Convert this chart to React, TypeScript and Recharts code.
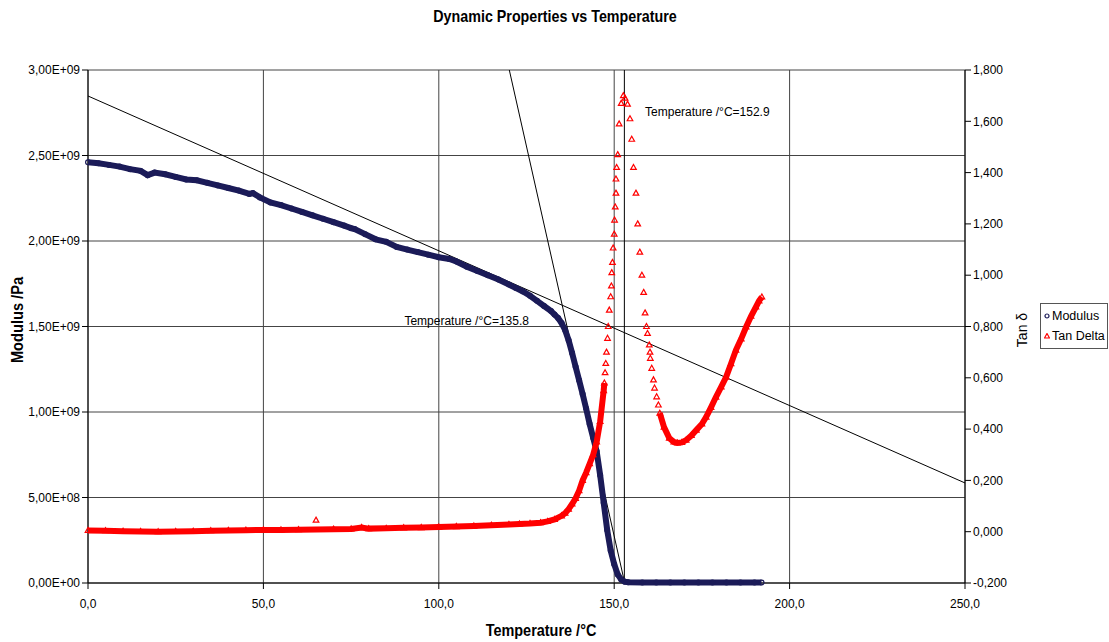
import React from 'react';
import { ScatterChart, Scatter, XAxis, YAxis, CartesianGrid, ReferenceLine, ReferenceDot, Label } from 'recharts';

const FONT = '"Liberation Sans", Arial, sans-serif';
const NAVY = '#1b1b58';
const RED = '#ff0000';

// Modulus /Pa
const modulusT = [0, 3, 6, 9, 12, 15, 17, 19, 22, 25, 28, 31, 34, 37, 40, 43, 46, 47, 49, 52, 55, 58, 61, 64, 67, 70, 73, 75, 76, 79, 82, 85, 88, 91, 94, 97, 100, 103, 105, 108, 111, 114, 117, 120, 122, 124, 126, 128, 130, 132, 133, 134, 135, 136, 137, 138, 139, 140, 141, 142, 143, 144, 145, 146, 147, 148, 149, 150, 151, 152, 153, 154, 158, 162, 166, 170, 174, 178, 182, 186, 190, 192];
const modulusPa = [2.46e9, 2.455e9, 2.445e9, 2.435e9, 2.42e9, 2.41e9, 2.385e9, 2.4e9, 2.39e9, 2.375e9, 2.36e9, 2.355e9, 2.34e9, 2.325e9, 2.31e9, 2.295e9, 2.275e9, 2.28e9, 2.255e9, 2.225e9, 2.21e9, 2.19e9, 2.17e9, 2.15e9, 2.13e9, 2.11e9, 2.09e9, 2.075e9, 2.07e9, 2.04e9, 2.01e9, 1.995e9, 1.965e9, 1.95e9, 1.935e9, 1.92e9, 1.905e9, 1.895e9, 1.88e9, 1.85e9, 1.825e9, 1.8e9, 1.775e9, 1.745e9, 1.725e9, 1.705e9, 1.68e9, 1.65e9, 1.62e9, 1.59e9, 1.57e9, 1.55e9, 1.52e9, 1.48e9, 1.42e9, 1.345e9, 1.265e9, 1.185e9, 1.105e9, 1.02e9, 0.93e9, 0.85e9, 0.77e9, 0.63e9, 0.47e9, 0.31e9, 0.19e9, 0.11e9, 0.05e9, 0.02e9, 0.008e9, 0.004e9, 0.003e9, 0.003e9, 0.003e9, 0.003e9, 0.003e9, 0.003e9, 0.003e9, 0.003e9, 0.003e9, 0.003e9];

// Tan Delta: dense rising part, sparse peak part, dense tail
const tanRiseT = [0, 5, 10, 15, 20, 25, 30, 35, 40, 45, 50, 55, 60, 70, 75, 78, 80, 85, 90, 95, 100, 105, 110, 115, 120, 123, 126, 129, 131, 133, 135, 136, 137, 138, 139, 140, 141, 142, 143, 144, 145, 146, 147, 147.2];
const tanRise = [0.005, 0.004, 0.002, 0.001, 0.0, 0.001, 0.002, 0.004, 0.005, 0.006, 0.007, 0.007, 0.008, 0.01, 0.011, 0.016, 0.012, 0.013, 0.015, 0.016, 0.018, 0.02, 0.022, 0.025, 0.028, 0.03, 0.032, 0.035, 0.04, 0.048, 0.062, 0.072, 0.088, 0.108, 0.13, 0.16, 0.2, 0.23, 0.265, 0.3, 0.35, 0.43, 0.55, 0.58];
const tanPeakT = [65, 147.4, 147.6, 147.8, 148.1, 148.3, 148.6, 149.0, 149.2, 149.3, 149.5, 149.7, 150.0, 150.1, 150.3, 150.5, 150.5, 150.7, 151.0, 151.4, 152.0, 152.6, 153.1, 153.8, 154.5, 155.0, 155.5, 156.2, 156.7, 157.3, 157.9, 158.4, 158.8, 159.2, 159.5, 160.0, 160.2, 160.3, 160.7, 161.2, 161.5, 162.1, 162.6];
const tanPeak = [0.045, 0.62, 0.656, 0.7, 0.754, 0.8, 0.864, 0.916, 0.958, 1.01, 1.05, 1.106, 1.16, 1.215, 1.266, 1.32, 1.375, 1.42, 1.47, 1.59, 1.67, 1.7, 1.69, 1.667, 1.61, 1.53, 1.42, 1.32, 1.2, 1.09, 1.0, 0.933, 0.853, 0.8, 0.773, 0.728, 0.7, 0.676, 0.637, 0.592, 0.56, 0.526, 0.494];
const tanTailT = [163.0, 164.2, 165.7, 167, 168, 169.3, 170.5, 172, 173.4, 175, 176.2, 177.6, 179, 180.5, 181.9, 183.3, 184.7, 186.2, 187.6, 189, 190.4, 191.3, 192.1];
const tanTail = [0.462, 0.408, 0.365, 0.35, 0.346, 0.348, 0.357, 0.375, 0.396, 0.42, 0.447, 0.485, 0.525, 0.565, 0.603, 0.655, 0.708, 0.752, 0.798, 0.84, 0.876, 0.9, 0.915];

const xTicks = [0, 50, 100, 150, 200, 250];
const modulusTicks = [0, 5e8, 1e9, 1.5e9, 2e9, 2.5e9, 3e9];
const tanTicks = [-0.2, 0, 0.2, 0.4, 0.6, 0.8, 1.0, 1.2, 1.4, 1.6, 1.8];

// tangent construction lines and the two marked temperatures
const tangentShallow = [{ x: 0, y: 2.848e9 }, { x: 250, y: 0.585e9 }];
const tangentSteep = [{ x: 120.1, y: 3e9 }, { x: 153.0, y: 0 }];
const onsetTemp = 135.8;
const peakTemp = 152.9;

const pts = (xs: number[], ys: number[]) => xs.map((x, i) => ({ x, y: ys[i] }));

const fmtSci = (v: number) => {
  const [m, e] = v.toExponential(2).split('e');
  const sign = e[0] === '-' ? '-' : '+';
  return `${m.replace('.', ',')}E${sign}${String(Math.abs(+e)).padStart(2, '0')}`;
};
const fmtTan = (v: number) => v.toFixed(3).replace('.', ',');
const fmtX = (v: number) => v.toFixed(1).replace('.', ',');

// eslint-disable-next-line @typescript-eslint/no-explicit-any
const CircleMark = (p: any) => <circle cx={p.cx} cy={p.cy} r={2.4} fill="none" stroke={NAVY} strokeWidth={1.2} />;
// eslint-disable-next-line @typescript-eslint/no-explicit-any
const TriMark = (p: any) => (
  <path d={`M${p.cx},${p.cy - 3}L${p.cx + 2.8},${p.cy + 2}L${p.cx - 2.8},${p.cy + 2}Z`} fill="none" stroke={RED} strokeWidth={1.2} />
);

const tickStyle = { fill: '#000', fontSize: 12, fontFamily: FONT };

export default function App() {
  return (
    <div style={{ position: 'absolute', left: 0, top: 0, width: 1109, height: 642, background: '#fff', fontFamily: FONT }}>
      {/* condensed bold titles */}
      <div style={{ position: 'absolute', left: 555, top: 17, transform: 'translate(-50%, -50%) scaleX(0.84)', whiteSpace: 'nowrap', fontSize: 17, fontWeight: 'bold' }}>
        Dynamic Properties vs Temperature
      </div>

      <ScatterChart width={1109} height={642} margin={{ top: 70, right: 84, bottom: 29, left: 8 }}>
        <CartesianGrid yAxisId="mod" stroke="#444" strokeWidth={1} />
        <XAxis
          type="number"
          dataKey="x"
          domain={[0, 250]}
          ticks={xTicks}
          tickFormatter={fmtX}
          height={30}
          tick={tickStyle}
          tickMargin={10}
          axisLine={{ stroke: '#000' }}
          tickLine={{ stroke: '#000' }}
        />
        <YAxis
          yAxisId="mod"
          type="number"
          dataKey="y"
          domain={[0, 3e9]}
          ticks={modulusTicks}
          tickFormatter={fmtSci}
          width={80}
          tick={tickStyle}
          axisLine={{ stroke: '#000' }}
          tickLine={{ stroke: '#000' }}
        />
        <YAxis
          yAxisId="tan"
          orientation="right"
          type="number"
          dataKey="y"
          domain={[-0.2, 1.8]}
          ticks={tanTicks}
          tickFormatter={fmtTan}
          width={60}
          tick={tickStyle}
          axisLine={{ stroke: '#000' }}
          tickLine={{ stroke: '#000' }}
        />

        <ReferenceLine yAxisId="mod" segment={tangentShallow} stroke="#000" strokeWidth={1} />
        <ReferenceLine yAxisId="mod" segment={tangentSteep} stroke="#000" strokeWidth={1} />
        <ReferenceLine yAxisId="mod" x={peakTemp} stroke="#000" strokeWidth={1} />

        <Scatter
          name="Modulus"
          yAxisId="mod"
          data={pts(modulusT, modulusPa)}
          line={{ stroke: NAVY, strokeWidth: 6 }}
          lineType="joint"
          shape={CircleMark}
          isAnimationActive={false}
        />
        <Scatter
          name="Tan Delta"
          yAxisId="tan"
          data={pts(tanRiseT, tanRise)}
          line={{ stroke: RED, strokeWidth: 6 }}
          lineType="joint"
          shape={TriMark}
          isAnimationActive={false}
        />
        <Scatter
          yAxisId="tan"
          data={pts(tanPeakT, tanPeak)}
          shape={TriMark}
          legendType="none"
          isAnimationActive={false}
        />
        <Scatter
          yAxisId="tan"
          data={pts(tanTailT, tanTail)}
          line={{ stroke: RED, strokeWidth: 6 }}
          lineType="joint"
          shape={TriMark}
          legendType="none"
          isAnimationActive={false}
        />

        <ReferenceDot yAxisId="mod" x={90.2} y={1.532e9} r={0} fill="none" stroke="none">
          <Label value={`Temperature /°C=${onsetTemp}`} position="right" offset={0} fill="#000" fontSize={12} fontFamily={FONT} />
        </ReferenceDot>
        <ReferenceDot yAxisId="mod" x={158.8} y={2.754e9} r={0} fill="none" stroke="none">
          <Label value={`Temperature /°C=${peakTemp}`} position="right" offset={0} fill="#000" fontSize={12} fontFamily={FONT} />
        </ReferenceDot>
      </ScatterChart>

      <div style={{ position: 'absolute', left: 18, top: 320, transform: 'translate(-50%, -50%) rotate(-90deg) scaleX(0.86)', whiteSpace: 'nowrap', fontSize: 17, fontWeight: 'bold' }}>
        Modulus /Pa
      </div>
      <div style={{ position: 'absolute', left: 1022, top: 330, transform: 'translate(-50%, -50%) rotate(-90deg)', whiteSpace: 'nowrap', fontSize: 14 }}>
        Tan δ
      </div>
      <div style={{ position: 'absolute', left: 541, top: 631, transform: 'translate(-50%, -50%) scaleX(0.85)', whiteSpace: 'nowrap', fontSize: 17, fontWeight: 'bold' }}>
        Temperature /°C
      </div>

      <div style={{ position: 'absolute', left: 1040, top: 303, width: 68, height: 46, border: '1px solid #555', boxSizing: 'border-box', fontSize: 12.5, lineHeight: '20px', paddingLeft: 3, paddingTop: 2, whiteSpace: 'nowrap' }}>
        <div style={{ display: 'flex', alignItems: 'center', gap: 2 }}>
          <svg width={6} height={6}><circle cx={3} cy={3} r={2} fill="none" stroke={NAVY} strokeWidth={1.2} /></svg>
          <span>Modulus</span>
        </div>
        <div style={{ display: 'flex', alignItems: 'center', gap: 2 }}>
          <svg width={6} height={6}><path d="M3,0.5L5.5,5L0.5,5Z" fill="none" stroke={RED} strokeWidth={1.2} /></svg>
          <span>Tan Delta</span>
        </div>
      </div>
    </div>
  );
}
